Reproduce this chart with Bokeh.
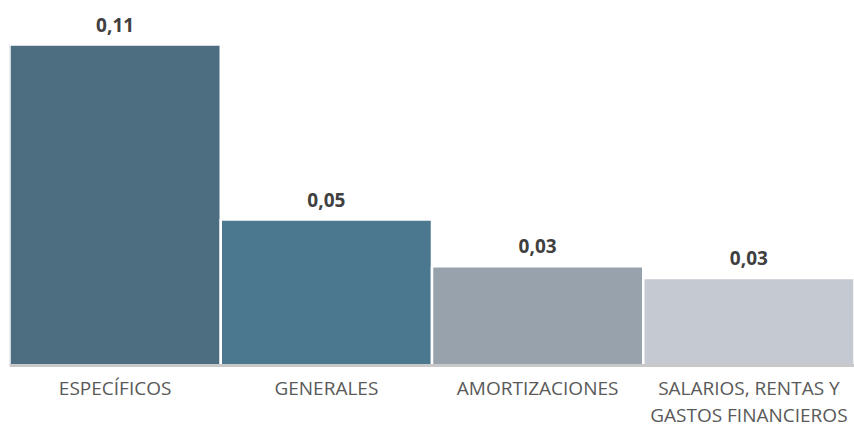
from bokeh.plotting import figure
from bokeh.models import Range1d, ColumnDataSource, Span
from bokeh.embed import file_html
from bokeh.resources import INLINE
from bokeh.core.properties import value

categories = ["ESPECÍFICOS", "GENERALES", "AMORTIZACIONES", "SALARIOS, RENTAS Y\nGASTOS FINANCIEROS"]
values = [0.110, 0.050, 0.034, 0.030]
colors = ["#4d6d80", "#4c788f", "#97a2ad", "#c5cad2"]

xs = [i + 0.5 for i in range(len(categories))]
labels = [f"{v:.2f}".replace(".", ",") for v in values]

src = ColumnDataSource(dict(x=xs, top=values, base=[0] * len(xs), color=colors,
                            label=labels, cat=categories))

# vertical layout (pixels): frame top at 8, tallest bar top at 44, baseline at 365, figure bottom at 427
px_per_unit = (365 - 44) / max(values)
y_end = max(values) + (44 - 8) / px_per_unit
y_start = -(427 - 365) / px_per_unit

p = figure(width=854, height=427, output_backend="svg", toolbar_location=None,
           x_range=Range1d(0, len(categories)), y_range=Range1d(y_start, y_end),
           x_axis_location=None, y_axis_location=None,
           min_border_left=9, min_border_right=0, min_border_top=8, min_border_bottom=0)
p.outline_line_color = None
p.grid.visible = False

p.vbar(x="x", top="top", width=1, bottom=0, fill_color="color", line_color="white",
       line_width=2.5, source=src)

p.add_layout(Span(location=0, dimension="width", line_color="#c8c8c8", line_width=3))

p.text(x="x", y="top", text="label", source=src, text_align="center",
       text_baseline="alphabetic", y_offset=-20, text_font=value("Open Sans"),
       text_font_style="bold", text_font_size="19px", text_color="#404040")

p.text(x="x", y="base", text="cat", source=src, text_align="center",
       text_baseline="top", y_offset=9, text_font=value("Open Sans"),
       text_font_size="19px", text_line_height=1.05, text_color="#595959")

open("out.html", "w").write(file_html(p, INLINE))
